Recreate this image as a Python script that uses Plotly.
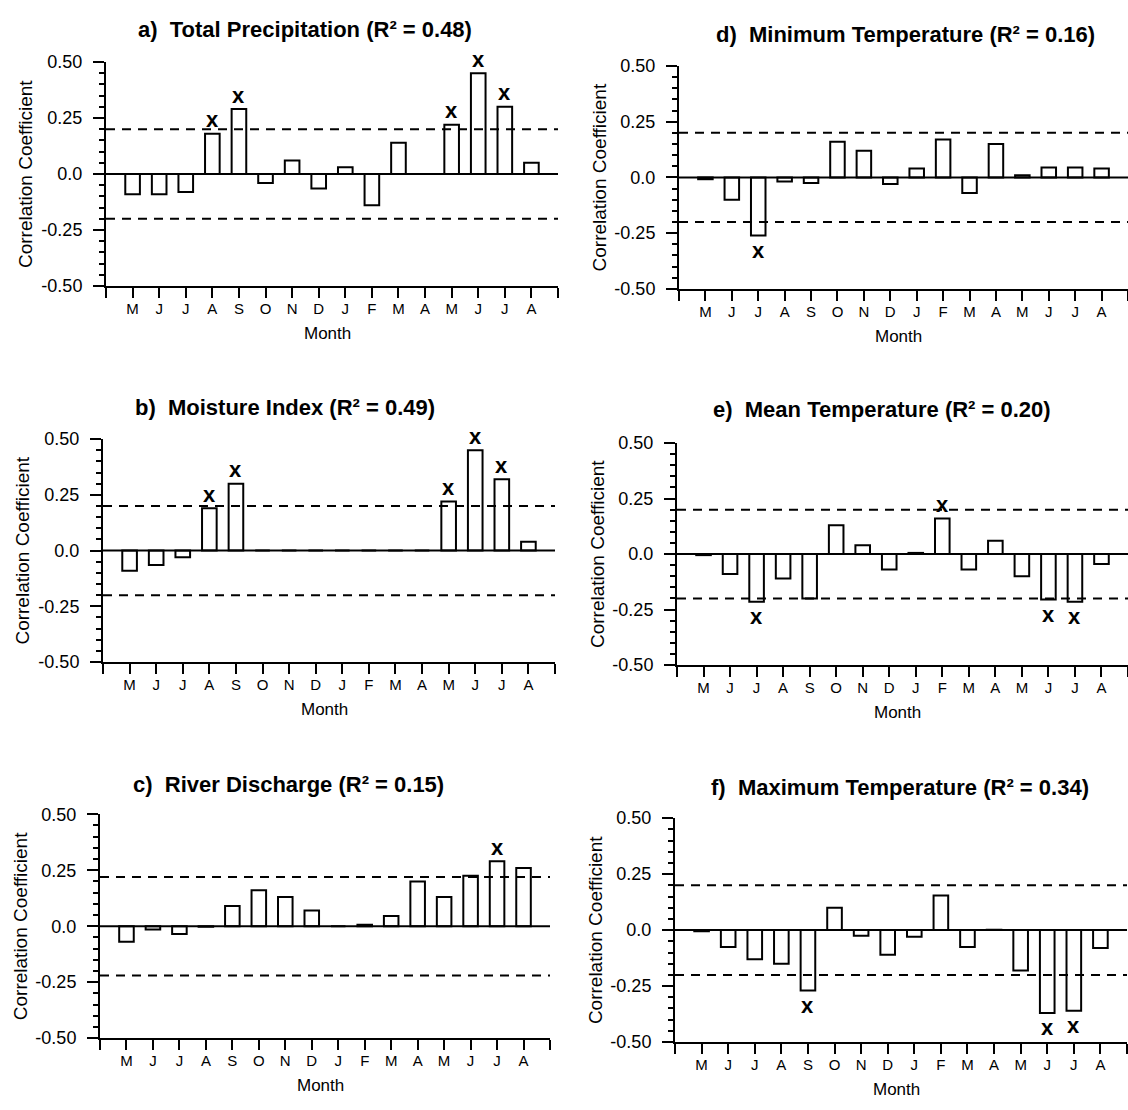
import plotly.graph_objects as go

W, H = 1128, 1110

months = ["M", "J", "J", "A", "S", "O", "N", "D", "J", "F", "M", "A", "M", "J", "J", "A"]

total_precip = [-0.09, -0.09, -0.08, 0.18, 0.29, -0.04, 0.06, -0.065, 0.03, -0.14, 0.14, 0.0, 0.22, 0.45, 0.30, 0.05]
moisture_index = [-0.09, -0.065, -0.03, 0.19, 0.30, 0.0, 0.0, 0.0, 0.0, 0.0, 0.0, 0.0, 0.22, 0.45, 0.32, 0.04]
river_discharge = [-0.07, -0.015, -0.035, -0.003, 0.09, 0.16, 0.13, 0.07, 0.0, 0.006, 0.045, 0.20, 0.13, 0.225, 0.29, 0.26]
min_temp = [-0.008, -0.10, -0.26, -0.018, -0.025, 0.16, 0.12, -0.03, 0.04, 0.17, -0.07, 0.15, 0.01, 0.045, 0.045, 0.04]
mean_temp = [-0.005, -0.09, -0.215, -0.11, -0.20, 0.13, 0.04, -0.07, 0.005, 0.16, -0.07, 0.06, -0.10, -0.205, -0.215, -0.045]
max_temp = [-0.005, -0.075, -0.13, -0.15, -0.27, 0.10, -0.025, -0.11, -0.03, 0.155, -0.075, 0.002, -0.18, -0.37, -0.36, -0.08]

# months flagged as significant (0-based positions)
sig_a = [3, 4, 12, 13, 14]
sig_b = [3, 4, 12, 13, 14]
sig_c = [14]
sig_d = [2]
sig_e = [2, 9, 13, 14]
sig_f = [4, 13, 14]

titles = [
    "a)  Total Precipitation (R² = 0.48)",
    "b)  Moisture Index (R² = 0.49)",
    "c)  River Discharge (R² = 0.15)",
    "d)  Minimum Temperature (R² = 0.16)",
    "e)  Mean Temperature (R² = 0.20)",
    "f)  Maximum Temperature (R² = 0.34)",
]
thresholds = [0.20, 0.20, 0.22, 0.20, 0.20, 0.20]

y_tickvals = [-0.5, -0.25, 0.0, 0.25, 0.5]
y_ticktext = ["-0.50", "-0.25", "0.0", "0.25", "0.50"]

series = [total_precip, moisture_index, river_discharge, min_temp, mean_temp, max_temp]
sigs = [sig_a, sig_b, sig_c, sig_d, sig_e, sig_f]

# panel frames in pixels: (x_left, x_right, y_top, y_bottom), title centre x/y
frames = [
    (106, 558, 53, 281, 305, 20),
    (103, 555, 437, 664, 285, 405),
    (100, 550, 819, 1047, 288, 789),
    (679, 1128, 57, 284, 905, 25),
    (677, 1128, 441, 667, 882, 407),
    (675, 1127, 823, 1051, 900, 792),
]

FONT = "Liberation Sans, Arial, sans-serif"

fig = go.Figure()
layout = dict(
    width=W, height=H,
    margin=dict(l=0, r=0, t=0, b=0),
    paper_bgcolor="white", plot_bgcolor="white",
    showlegend=False,
    font=dict(family=FONT, color="black"),
)
annotations = []
shapes = []
xpos = list(range(1, 17))

for k, (vals, sig, title, thr, fr) in enumerate(zip(series, sigs, titles, thresholds, frames)):
    n = "" if k == 0 else str(k + 1)
    xl, xr, yt, yb, tx, ty = fr
    fig.add_trace(go.Bar(
        x=xpos, y=vals, width=0.55,
        marker=dict(color="white", line=dict(color="black", width=2)),
        xaxis="x" + n, yaxis="y" + n,
        hoverinfo="skip",
    ))
    layout["xaxis" + n] = dict(
        domain=[xl / W, xr / W], range=[0, 17], anchor="y" + n,
        tickvals=xpos, ticktext=months,
        ticks="outside", ticklen=10, tickwidth=2, tickcolor="black",
        minor=dict(dtick=1, tick0=0, ticks="outside", ticklen=10, tickwidth=2, tickcolor="black"),
        showline=True, linewidth=2, linecolor="black",
        showgrid=False, zeroline=False, fixedrange=True,
        tickfont=dict(size=15, family=FONT), ticklabelstandoff=-2,
    )
    layout["yaxis" + n] = dict(
        domain=[1 - yb / H, 1 - yt / H], range=[-0.5, 0.5], anchor="x" + n,
        tickvals=y_tickvals, ticktext=y_ticktext,
        ticks="outside", ticklen=11, tickwidth=2, tickcolor="black",
        minor=dict(dtick=0.05, tick0=0, ticks="outside", ticklen=5, tickwidth=2, tickcolor="black"),
        showline=True, linewidth=2, linecolor="black",
        showgrid=False, zeroline=False, fixedrange=True,
        tickfont=dict(size=18, family=FONT), ticklabelstandoff=7,
    )
    xr_ = "x" + n
    yr_ = "y" + n
    # zero line and significance limits
    shapes.append(dict(type="line", xref=xr_, yref=yr_, x0=0, x1=17, y0=0, y1=0,
                       line=dict(color="black", width=2), layer="above"))
    for s in (thr, -thr):
        shapes.append(dict(type="line", xref=xr_, yref=yr_, x0=0, x1=17, y0=s, y1=s,
                           line=dict(color="black", width=2, dash="9px,7px"), layer="above"))
    # significance marks
    for i in sig:
        v = vals[i]
        annotations.append(dict(
            x=i + 1, y=v, xref=xr_, yref=yr_, text="x", showarrow=False,
            yanchor="middle", yshift=14 if v > 0 else -15,
            font=dict(size=22, family=FONT, color="black", weight="bold"),
        ))
    # panel title
    annotations.append(dict(
        x=tx / W, y=1 - ty / H, xref="paper", yref="paper", text=title,
        showarrow=False, xanchor="center", yanchor="middle",
        font=dict(size=22, family=FONT, color="black", weight="bold"),
    ))
    # axis titles
    annotations.append(dict(
        x=(xl - 80) / W, y=1 - ((yt + yb) / 2) / H, xref="paper", yref="paper",
        text="Correlation Coefficient", textangle=-90, showarrow=False,
        xanchor="center", yanchor="middle", font=dict(size=19, family=FONT),
    ))
    annotations.append(dict(
        x=((xl + xr) / 2 - 5) / W, y=1 - (yb + 48) / H, xref="paper", yref="paper",
        text="Month", showarrow=False, xanchor="center", yanchor="middle",
        font=dict(size=17, family=FONT),
    ))

layout["annotations"] = annotations
layout["shapes"] = shapes
fig.update_layout(**layout)
fig.write_html("out.html")
